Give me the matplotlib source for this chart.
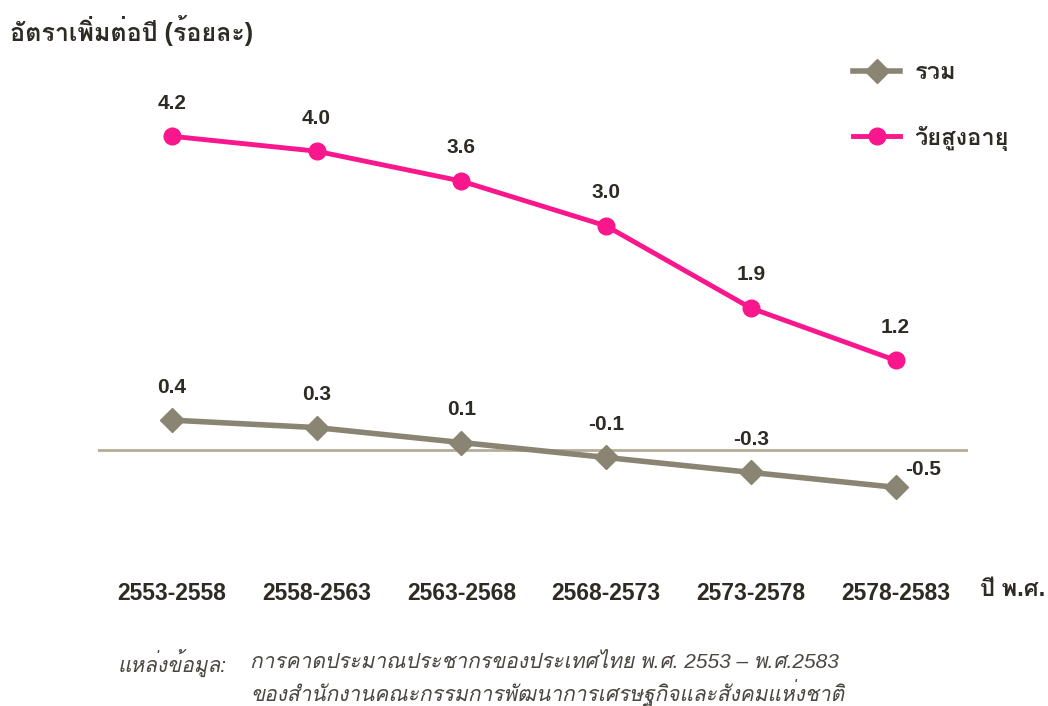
import matplotlib
matplotlib.use('Agg')
from matplotlib import pyplot as plt
from matplotlib import font_manager
from matplotlib.ft2font import FT2Font

# data
periods = ['2553-2558', '2558-2563', '2563-2568', '2568-2573', '2573-2578', '2578-2583']
total = [0.4, 0.3, 0.1, -0.1, -0.3, -0.5]
elderly = [4.2, 4.0, 3.6, 3.0, 1.9, 1.2]

# find an installed family that has Thai glyphs
thai = []
for f in font_manager.fontManager.ttflist:
    try:
        if 0x0E2D in FT2Font(f.fname).get_charmap() and f.name not in thai:
            thai.append(f.name)
    except Exception:
        pass
plt.rcParams['font.family'] = ['Liberation Sans'] + thai + ['DejaVu Sans']

PINK = '#fa168c'
GRAY = '#8a8473'
ZERO = '#b5ad98'
TXT = '#2e2a24'

fig = plt.figure(figsize=(10.48, 7.06), dpi=100)
W, H = 1048, 706
# axes spans pixel x 98..968 and y 100..520
ax = fig.add_axes([98 / W, 1 - 520 / H, 870 / W, 420 / H])
x = list(range(len(periods)))
ax.set_xlim(-0.51, 5.5)
scale = 74.7
ax.set_ylim(-(520 - 450) / scale, (450 - 100) / scale)

ax.axhline(0, color=ZERO, lw=2)
ax.plot(x, total, color=GRAY, lw=4, marker='D', markersize=12, zorder=3)
ax.plot(x, elderly, color=PINK, lw=3.5, marker='o', markersize=12, zorder=3)

for i, v in enumerate(elderly):
    ax.annotate(f'{v:.1f}', (i, v), xytext=(0, 17), textcoords='offset points',
                ha='center', va='bottom', fontsize=15, fontweight='bold', color=TXT)
for i, v in enumerate(total):
    if i == len(total) - 1:
        ax.annotate(f'{v:.1f}', (i, v), xytext=(7, 6), textcoords='offset points',
                    ha='left', va='bottom', fontsize=15, fontweight='bold', color=TXT)
    else:
        ax.annotate(f'{v:.1f}', (i, v), xytext=(0, 17), textcoords='offset points',
                    ha='center', va='bottom', fontsize=15, fontweight='bold', color=TXT)

ax.set_xticks(x)
ax.set_xticklabels(periods, fontsize=16.5, fontweight='bold', color=TXT)
ax.tick_params(axis='x', length=0, pad=45)
ax.set_yticks([])
for s in ax.spines.values():
    s.set_visible(False)

fig.text(980 / W, 1 - 590 / H, 'ปี พ.ศ.', fontsize=17, fontweight='bold',
         color=TXT, va='center', ha='left')
fig.text(10 / W, 1 - 30 / H, 'อัตราเพิ่มต่อปี (ร้อยละ)', fontsize=18, fontweight='bold',
         color=TXT, va='center', ha='left')

# legend at top right
fig.legend(handles=[
    plt.Line2D([], [], color=GRAY, lw=4, marker='D', markersize=12),
    plt.Line2D([], [], color=PINK, lw=3.5, marker='o', markersize=12)],
    labels=['รวม', 'วัยสูงอายุ'], loc='upper left', bbox_to_anchor=(832 / W, 1 - 40 / H),
    frameon=False, labelspacing=1.75, handlelength=2.0, handletextpad=0.6,
    prop={'weight': 'bold', 'size': 17}, labelcolor=TXT)

SRC = '#4a4640'
fig.text(118 / W, 1 - 663 / H, 'แหล่งข้อมูล:', fontsize=15, style='italic',
         color=SRC, va='center', ha='left')
fig.text(250 / W, 1 - 663 / H, 'การคาดประมาณประชากรของประเทศไทย พ.ศ. 2553 – พ.ศ.2583',
         fontsize=15, style='italic', color=SRC, va='center', ha='left')
fig.text(250 / W, 1 - 693 / H, 'ของสำนักงานคณะกรรมการพัฒนาการเศรษฐกิจและสังคมแห่งชาติ',
         fontsize=15, style='italic', color=SRC, va='center', ha='left')

fig.savefig('out.png', dpi=100)
